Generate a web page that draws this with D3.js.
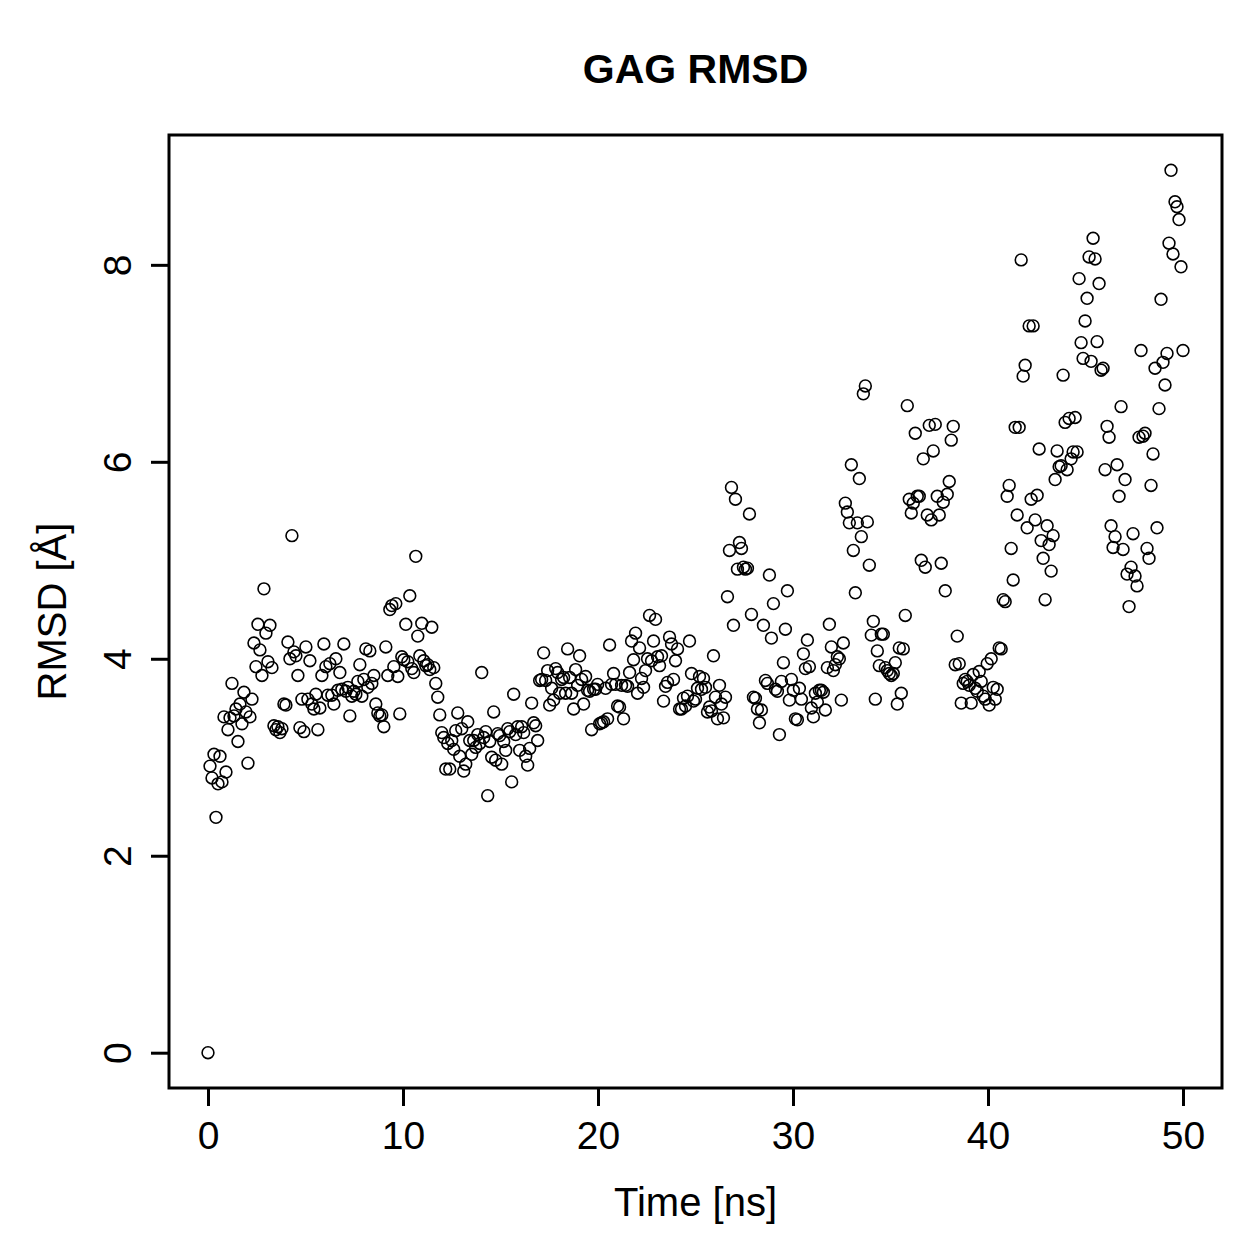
<!DOCTYPE html>
<html>
<head>
<meta charset="utf-8">
<script src="https://cdn.jsdelivr.net/npm/d3@7"></script>
<style>
  html, body { margin: 0; padding: 0; background: #fff; }
  svg { display: block; }
  text { font-family: "Liberation Sans", Arial, Helvetica, sans-serif; fill: #000; }
</style>
</head>
<body>
<svg id="chart" width="1259" height="1259"></svg>
<script>
// ---- Data ----
const chartTitle = "GAG RMSD";
const xLabel = "Time [ns]";
const yLabel = "RMSD [Å]";
const xTicks = [0, 10, 20, 30, 40, 50];
const yTicks = [0, 2, 4, 6, 8];
const timeStart = 0;
const timeEnd = 50;
// RMSD values (Å), one per frame, evenly spaced in time from 0 to 50 ns
const rmsd = [
  0, 2.91, 2.79, 3.03, 2.39, 2.73, 3.01, 2.75, 3.41, 2.85, 3.28, 3.40, 3.75, 3.42, 3.49, 3.16, 3.54, 3.34, 3.66, 3.46,
  2.94, 3.41, 3.59, 4.16, 3.92, 4.35, 4.09, 3.83, 4.71, 4.26, 3.97, 4.34, 3.91, 3.32, 3.28, 3.31, 3.25, 3.29, 3.54, 3.53,
  4.17, 4.00, 5.25, 4.07, 4.03, 3.83, 3.30, 3.59, 3.26, 4.12,
  3.59, 3.98, 3.54, 3.49, 3.64, 3.28, 3.50, 3.83, 4.15, 3.92, 3.63, 3.95, 3.63, 3.54, 4.0, 3.68, 3.86, 3.69, 4.15, 3.67,
  3.71, 3.42, 3.62, 3.67, 3.64, 3.77, 3.94, 3.62, 3.79, 4.10, 3.71, 4.08, 3.75, 3.83, 3.54, 3.45, 3.42, 3.43, 3.31, 4.12,
  3.83, 4.50, 4.54, 3.92, 4.56, 3.82, 3.44, 4.02, 3.99, 4.35, 3.97, 4.64, 3.9, 3.86, 5.04, 4.23, 4.03, 4.36, 3.98, 3.93,
  3.94, 3.89, 4.32, 3.91, 3.75, 3.61, 3.43, 3.25, 3.20, 2.88, 3.14, 2.88, 3.17, 3.08, 3.27, 3.45, 3.01, 3.29, 2.86, 2.93,
  3.36, 3.17, 3.03, 3.17, 3.10, 3.23, 3.14, 3.86, 3.20, 3.26, 2.61, 3.16, 3.0, 3.46, 2.97, 3.24, 3.22, 2.93, 3.16, 3.07,
  3.29, 3.26, 2.75, 3.64, 3.23, 3.31, 3.07, 3.31, 3.25, 3.01, 2.92, 3.09, 3.55, 3.35, 3.32, 3.17, 3.78, 3.79, 4.06, 3.78,
  3.88, 3.53, 3.70, 3.58, 3.90, 3.86, 3.65, 3.79, 3.81, 3.65, 4.10, 3.81, 3.65, 3.49, 3.89, 3.73, 4.03, 3.79, 3.54, 3.82,
  3.68, 3.67, 3.28, 3.69, 3.69, 3.74, 3.34, 3.35, 3.36, 3.70, 3.39, 4.14, 3.74, 3.85, 3.74, 3.52, 3.51, 3.73, 3.39, 3.73,
  3.72, 3.86, 4.18, 3.99, 4.26, 3.65, 4.11, 3.80, 3.71, 3.88, 4.0, 4.44, 3.98, 4.18, 4.40, 4.02, 3.93, 4.03, 3.57, 3.72,
  3.76, 4.22, 4.15, 3.79, 3.98, 4.10, 3.49, 3.49, 3.60, 3.52, 3.62, 4.18, 3.85, 3.57, 3.59, 3.70, 3.82, 3.69, 3.80, 3.71,
  3.46, 3.51, 3.47, 4.03, 3.61, 3.39, 3.73, 3.54, 3.40, 3.61, 4.63, 5.10, 5.74, 4.34, 5.62, 4.91, 5.18, 5.12, 4.93, 4.91,
  4.92, 5.47, 4.45, 3.61, 3.60, 3.49, 3.35, 3.48, 4.34, 3.78, 3.75, 4.85, 4.21, 4.56, 3.69, 3.67, 3.23, 3.77, 3.96, 4.30,
  4.69, 3.58, 3.79, 3.68, 3.39, 3.38, 3.70, 3.59, 4.05, 3.90, 4.19, 3.92, 3.50, 3.41, 3.65, 3.56, 3.68, 3.68, 3.66, 3.48,
  3.91, 4.35, 4.12, 3.88, 3.94, 4.02, 4.0, 3.58, 4.16, 5.58, 5.49, 5.38, 5.97, 5.10, 4.67, 5.38, 5.83, 5.24, 6.69, 6.77,
  5.39, 4.95, 4.24, 4.38, 3.59, 4.08, 3.93, 4.25, 4.25, 3.91, 3.88, 3.85, 3.83, 3.85, 3.96, 3.54, 4.11, 3.65, 4.10, 4.44,
  6.57, 5.62, 5.48, 5.58, 6.29, 5.65, 5.65, 5.00, 6.03, 4.93, 5.46, 6.37, 5.41, 6.11, 6.38, 5.65, 5.46, 4.97, 5.59, 4.69,
  5.67, 5.80, 6.22, 6.36, 3.94, 4.23, 3.95, 3.55, 3.75, 3.79, 3.77, 3.73, 3.55, 3.84, 3.70, 3.67, 3.87, 3.77, 3.62, 3.59,
  3.95, 3.53, 4.0, 3.71, 3.59, 3.69, 4.11, 4.10, 4.60, 4.58, 5.65, 5.76, 5.12, 4.80, 6.35, 5.46, 6.35, 8.05, 6.87, 6.98,
  5.33, 7.38, 5.62, 7.38, 5.41, 5.66, 6.13, 5.20, 5.02, 4.60, 5.35, 5.16, 4.89, 5.25, 5.82, 6.11, 5.95, 5.96, 6.88, 6.40,
  5.92, 6.44, 6.03, 6.10, 6.45, 6.10, 7.86, 7.21, 7.05, 7.43, 7.66, 8.08, 7.02, 8.27, 8.06, 7.22, 7.81, 6.93, 6.95, 5.92,
  6.36, 6.25, 5.35, 5.13, 5.24, 5.97, 5.65, 6.56, 5.11, 5.82, 4.86, 4.53, 4.93, 5.27, 4.84, 4.74, 6.25, 7.13, 6.26, 6.29,
  5.12, 5.02, 5.76, 6.08, 6.95, 5.33, 6.54, 7.65, 7.01, 6.78, 7.10, 8.22, 8.96, 8.11, 8.64, 8.59, 8.46, 7.98, 7.13
];

// ---- Layout ----
const svg = d3.select("#chart");
const W = 1259, H = 1259;
const box = { left: 169, right: 1222, top: 135, bottom: 1088 };

svg.append("rect").attr("width", W).attr("height", H).attr("fill", "#fff");

const step = (timeEnd - timeStart) / (rmsd.length - 1);
const points = rmsd.map((v, i) => ({ t: timeStart + i * step, v }));

// R-style 4% padding
const xPad = (timeEnd - timeStart) * 0.04;
const yMax = d3.max(rmsd), yMin = d3.min(rmsd);
const yPad = (yMax - yMin) * 0.04;

const x = d3.scaleLinear().domain([timeStart - xPad, timeEnd + xPad]).range([box.left, box.right]);
const y = d3.scaleLinear().domain([yMin - yPad, yMax + yPad]).range([box.bottom, box.top]);

// Points
svg.append("g")
  .selectAll("circle")
  .data(points)
  .join("circle")
  .attr("cx", d => x(d.t))
  .attr("cy", d => y(d.v))
  .attr("r", 5.9)
  .attr("fill", "none")
  .attr("stroke", "#000")
  .attr("stroke-width", 1.6);

// Axes
const tickLen = 18;
const gx = svg.append("g")
  .attr("transform", `translate(0,${box.bottom})`)
  .call(d3.axisBottom(x).tickValues(xTicks).tickSize(tickLen).tickPadding(15).tickFormat(d3.format("d")));
gx.select(".domain").remove();
gx.selectAll(".tick line").attr("stroke", "#000").attr("stroke-width", 3);
gx.selectAll(".tick text").attr("font-size", 39).attr("font-family", "Liberation Sans, Arial, sans-serif");

const gy = svg.append("g")
  .attr("transform", `translate(${box.left},0)`)
  .call(d3.axisLeft(y).tickValues(yTicks).tickSize(tickLen).tickFormat(d3.format("d")));
gy.select(".domain").remove();
gy.selectAll(".tick line").attr("stroke", "#000").attr("stroke-width", 3);
gy.selectAll(".tick text")
  .attr("font-size", 39)
  .attr("font-family", "Liberation Sans, Arial, sans-serif")
  .attr("text-anchor", "middle")
  .attr("x", 0)
  .attr("y", -38)
  .attr("dy", 0)
  .attr("transform", "rotate(-90)");

// Box
svg.append("rect")
  .attr("x", box.left).attr("y", box.top)
  .attr("width", box.right - box.left).attr("height", box.bottom - box.top)
  .attr("fill", "none").attr("stroke", "#000").attr("stroke-width", 3);

// Title & labels
svg.append("text")
  .attr("x", (box.left + box.right) / 2).attr("y", 83)
  .attr("text-anchor", "middle").attr("font-size", 41).attr("font-weight", "bold")
  .text(chartTitle);

svg.append("text")
  .attr("x", (box.left + box.right) / 2).attr("y", 1216)
  .attr("text-anchor", "middle").attr("font-size", 40)
  .text(xLabel);

svg.append("text")
  .attr("transform", `translate(66,${(box.top + box.bottom) / 2}) rotate(-90)`)
  .attr("text-anchor", "middle").attr("font-size", 40)
  .text(yLabel);
</script>
</body>
</html>
